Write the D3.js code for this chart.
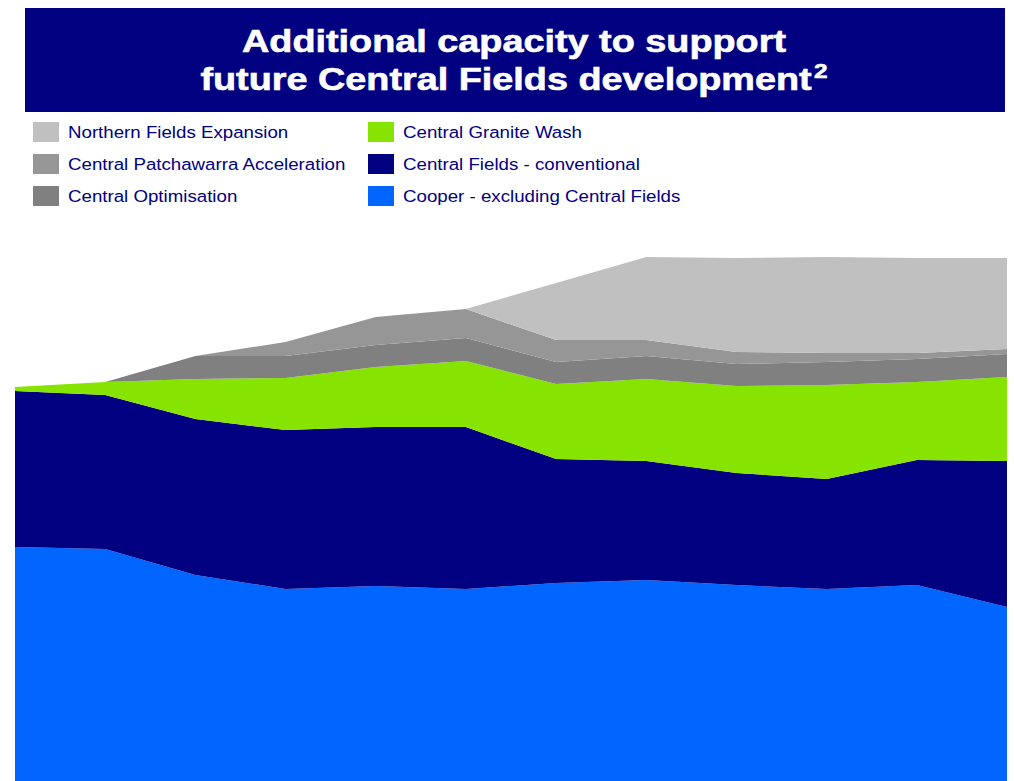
<!DOCTYPE html>
<html>
<head>
<meta charset="utf-8">
<script src="https://cdn.jsdelivr.net/npm/d3@7/dist/d3.min.js"></script>
<style>
  html, body { margin: 0; padding: 0; background: #ffffff; }
  svg { display: block; }
</style>
</head>
<body>
<svg id="chart" width="1014" height="781"></svg>
<script>
// ---- Data ----
const periods = ["1", "2", "3", "4", "5", "6", "7", "8", "9", "10", "11", "12"];
const seriesNames = [
  "Cooper - excluding Central Fields",
  "Central Fields - conventional",
  "Central Granite Wash",
  "Central Optimisation",
  "Central Patchawarra Acceleration",
  "Northern Fields Expansion"
];
const cooperExCentral      = [234, 232, 206, 192, 195, 192, 198, 201, 196, 192, 196, 174];
const centralConventional  = [156, 154, 156, 159, 159, 162, 124, 119, 112, 110, 125, 146];
const centralGraniteWash   = [4, 13, 40, 52, 60, 66, 75, 82, 87, 94, 78, 84];
const centralOptimisation  = [0, 0, 23, 22, 22, 23, 22, 23, 22, 23, 23, 23];
const centralPatchawarra   = [0, 0, 0, 14, 28, 29, 22, 16, 12, 9, 6, 5];
const northernExpansion    = [0, 0, 0, 0, 0, 0, 57, 83, 94, 96, 95, 91];
const seriesColors = ["#0066ff", "#000080", "#86e400", "#808080", "#969696", "#c0c0c0"];

// legend layout order (column-wise as in reference)
const legendCol1 = ["Northern Fields Expansion", "Central Patchawarra Acceleration", "Central Optimisation"];
const legendCol2 = ["Central Granite Wash", "Central Fields - conventional", "Cooper - excluding Central Fields"];

const titleLine1 = "Additional capacity to support";
const titleLine2 = "future Central Fields development";
const titleSup = "2";

// ---- Build table ----
const seriesValues = [cooperExCentral, centralConventional, centralGraniteWash,
                      centralOptimisation, centralPatchawarra, northernExpansion];
const table = periods.map((p, i) => {
  const row = { period: p };
  seriesNames.forEach((n, k) => row[n] = seriesValues[k][i]);
  return row;
});
const colorOf = d3.scaleOrdinal().domain(seriesNames).range(seriesColors);

const svg = d3.select("#chart");

// ---- Title banner ----
svg.append("rect").attr("x", 25).attr("y", 8).attr("width", 980).attr("height", 104)
   .attr("fill", "#000080");
const tf = "'Liberation Sans', Arial, sans-serif";
const tg = svg.append("g").attr("transform", "translate(514,0) scale(1.22,1)");
tg.append("text").attr("x", 0).attr("y", 52).attr("text-anchor", "middle")
   .attr("font-family", tf).attr("font-weight", "bold").attr("font-size", 31)
   .attr("fill", "#ffffff").attr("stroke", "#ffffff").attr("stroke-width", 0.6)
   .text(titleLine1);
const t2 = tg.append("text").attr("x", 0).attr("y", 90).attr("text-anchor", "middle")
   .attr("font-family", tf).attr("font-weight", "bold").attr("font-size", 31)
   .attr("fill", "#ffffff").attr("stroke", "#ffffff").attr("stroke-width", 0.6);
t2.append("tspan").text(titleLine2);
t2.append("tspan").attr("dx", 2).attr("dy", -12).attr("font-size", 20).text(titleSup);

// ---- Legend ----
function legendColumn(names, sx, tx) {
  names.forEach((n, i) => {
    const y0 = 122 + i * 32;
    svg.append("rect").attr("x", sx).attr("y", y0).attr("width", 26).attr("height", 20)
       .attr("fill", colorOf(n));
    svg.append("g").attr("transform", `translate(${tx},${y0 + 16}) scale(1.1,1)`)
       .append("text").attr("x", 0).attr("y", 0)
       .attr("font-family", tf).attr("font-size", 17).attr("fill", "#000080").text(n);
  });
}
legendColumn(legendCol1, 33, 68);
legendColumn(legendCol2, 368, 403);

// ---- Stacked areas ----
const x = d3.scalePoint().domain(periods).range([15, 1007]);
const y = d3.scaleLinear().domain([0, 525]).range([781, 256]);
const stacked = d3.stack().keys(seriesNames)(table);
const area = d3.area()
  .x(d => x(d.data.period))
  .y0(d => y(d[0]))
  .y1(d => y(d[1]));
svg.append("g").selectAll("path").data(stacked).join("path")
   .attr("d", area)
   .attr("fill", d => colorOf(d.key));
</script>
</body>
</html>
